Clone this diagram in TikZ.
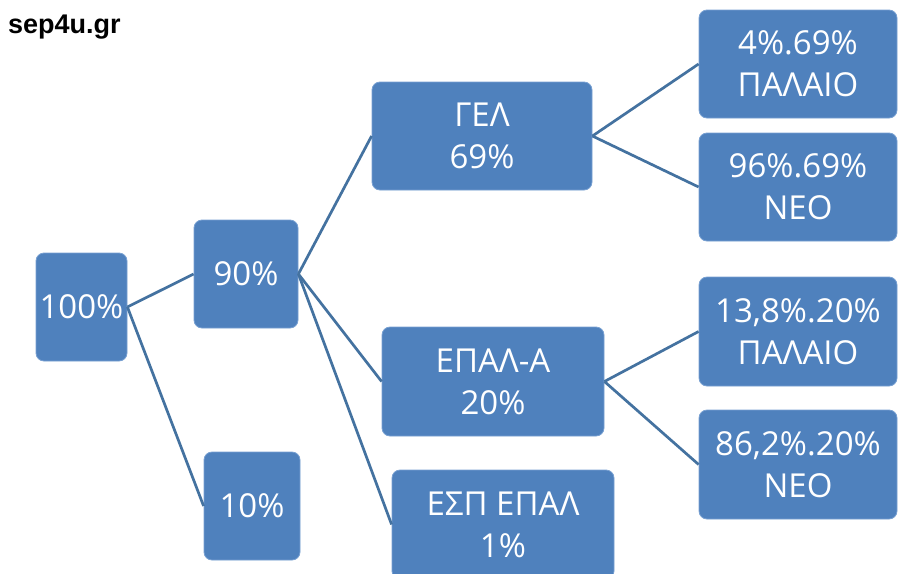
\documentclass[tikz,border=0pt]{standalone}
\usepackage{fontspec}
\setmainfont{Open Sans}
\newfontfamily\logofont{Liberation Sans}
\definecolor{boxblue}{RGB}{79,129,189}
\definecolor{boxedge}{RGB}{120,160,210}
\definecolor{linkblue}{RGB}{68,114,160}
\begin{document}
\begin{tikzpicture}[x=1pt,y=-1pt,
  box/.style={draw=boxedge, line width=0.8pt, fill=boxblue, rounded corners=8pt,
    text=white, align=center, inner sep=0pt,
    font=\fontsize{33}{42}\selectfont},
  link/.style={draw=linkblue, line width=2.7pt}]
\useasboundingbox (0,0) rectangle (912,573);
\clip (0,0) rectangle (912,573);
\fill[white] (0,0) rectangle (912,573);
\node[anchor=base west, inner sep=0pt, font=\logofont\bfseries\fontsize{27}{30}\selectfont] (logo) at (8,33) {sep4u.gr};
\node[box, minimum width=91pt, minimum height=108pt] (n100) at (81.5,307) {100\%};
\node[box, minimum width=104pt, minimum height=108pt] (n90) at (246,274) {90\%};
\node[box, minimum width=96pt, minimum height=108pt] (n10) at (252,506) {10\%};
\node[box, minimum width=220pt, minimum height=108pt] (gel) at (482,136) {ΓΕΛ\\69\%};
\node[box, minimum width=222pt, minimum height=109pt] (epal) at (493,381.5) {ΕΠΑΛ-Α\\20\%};
\node[box, minimum width=222pt, minimum height=109pt] (esp) at (503,524.5) {ΕΣΠ ΕΠΑΛ\\1\%};
\node[box, minimum width=198pt, minimum height=108pt] (o1) at (798,64) {4\%.69\%\\ΠΑΛΑΙΟ};
\node[box, minimum width=198pt, minimum height=108pt] (o2) at (798,187) {96\%.69\%\\ΝΕΟ};
\node[box, minimum width=198pt, minimum height=109pt] (o3) at (798,331.5) {13,8\%.20\%\\ΠΑΛΑΙΟ};
\node[box, minimum width=198pt, minimum height=109pt] (o4) at (798,464.5) {86,2\%.20\%\\ΝΕΟ};
\draw[link] (n100.east) -- (n90.west);
\draw[link] (n100.east) -- (n10.west);
\draw[link] (n90.east) -- (gel.west);
\draw[link] (n90.east) -- (epal.west);
\draw[link] (n90.east) -- (esp.west);
\draw[link] (gel.east) -- (o1.west);
\draw[link] (gel.east) -- (o2.west);
\draw[link] (epal.east) -- (o3.west);
\draw[link] (epal.east) -- (o4.west);
\end{tikzpicture}
\end{document}
